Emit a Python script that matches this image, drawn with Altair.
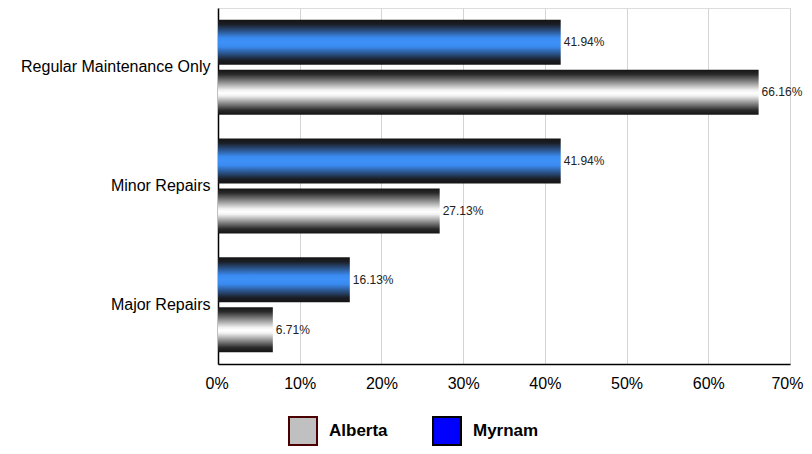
import altair as alt
import pandas as pd

categories = ["Regular Maintenance Only", "Minor Repairs", "Major Repairs"]
series_order = ["Myrnam", "Alberta"]
legend_order = ["Alberta", "Myrnam"]
myrnam_values = [0.4194, 0.4194, 0.1613]
alberta_values = [0.6616, 0.2713, 0.0671]
x_ticks = [0, 0.1, 0.2, 0.3, 0.4, 0.5, 0.6, 0.7]

rows = []
for c, m, a in zip(categories, myrnam_values, alberta_values):
    rows.append({"category": c, "series": "Myrnam", "value": m})
    rows.append({"category": c, "series": "Alberta", "value": a})
df = pd.DataFrame(rows)

FONT = "Liberation Sans"

blue_grad = alt.LinearGradient(
    gradient="linear", x1=0, x2=0, y1=0, y2=1,
    stops=[
        alt.GradientStop(color="#141414", offset=0),
        alt.GradientStop(color="#1b1e25", offset=0.1),
        alt.GradientStop(color="#3a8af0", offset=0.4),
        alt.GradientStop(color="#3e91f8", offset=0.5),
        alt.GradientStop(color="#3a8af0", offset=0.6),
        alt.GradientStop(color="#1b1e25", offset=0.9),
        alt.GradientStop(color="#141414", offset=1),
    ],
)
gray_grad = alt.LinearGradient(
    gradient="linear", x1=0, x2=0, y1=0, y2=1,
    stops=[
        alt.GradientStop(color="#141414", offset=0),
        alt.GradientStop(color="#2a2a2a", offset=0.1),
        alt.GradientStop(color="#f0f0f0", offset=0.45),
        alt.GradientStop(color="#ffffff", offset=0.52),
        alt.GradientStop(color="#f0f0f0", offset=0.58),
        alt.GradientStop(color="#2a2a2a", offset=0.9),
        alt.GradientStop(color="#141414", offset=1),
    ],
)

x_enc = alt.X(
    "value:Q",
    title=None,
    scale=alt.Scale(domain=[0, 0.7], nice=False),
    axis=alt.Axis(
        format="%", values=x_ticks, grid=True, gridColor="#d4d4d4", gridWidth=1,
        domainColor="black", domainWidth=1.5, ticks=False, tickSize=0,
        labelPadding=11, labelFontSize=16, labelColor="black", labelFont=FONT,
        labelFlush=True, labelFlushOffset=13,
    ),
)
y_enc = alt.Y(
    "category:N",
    sort=categories,
    title=None,
    scale=alt.Scale(paddingInner=0.2, paddingOuter=0.1),
    axis=alt.Axis(
        grid=False, ticks=False, tickSize=0, domainColor="black", domainWidth=1.5,
        labelPadding=8, labelFontSize=16, labelColor="black", labelFont=FONT,
        labelLimit=0,
    ),
)
yoff_enc = alt.YOffset(
    "series:N", sort=series_order, scale=alt.Scale(paddingInner=0.1, paddingOuter=0)
)

base = alt.Chart(df).encode(x=x_enc, y=y_enc, yOffset=yoff_enc)

myrnam_bars = base.transform_filter("datum.series == 'Myrnam'").mark_bar(fill=blue_grad)
alberta_bars = base.transform_filter("datum.series == 'Alberta'").mark_bar(fill=gray_grad)

labels = base.mark_text(
    align="left", baseline="middle", dx=3, fontSize=12, color="#222222", font=FONT
).encode(text=alt.Text("value:Q", format=".2%"))

leg = alt.Legend(
    orient="none", legendX=70, legendY=408, direction="horizontal", title=None,
    symbolType="square", symbolSize=784, symbolStrokeWidth=2,
    labelFontSize=17, labelFontWeight="bold", labelFont=FONT, labelColor="black",
    labelOffset=11, columnPadding=41, padding=0,
)
legend_layer = base.transform_filter("datum.value < 0").mark_square(
    size=784, strokeWidth=2, opacity=1
).encode(
    fill=alt.Fill("series:N", scale=alt.Scale(domain=legend_order, range=["#c0c0c0", "#0000ff"]), legend=leg),
    stroke=alt.Stroke("series:N", scale=alt.Scale(domain=legend_order, range=["#4a0000", "#000000"]), legend=leg),
)

chart = alt.layer(legend_layer, myrnam_bars, alberta_bars, labels).properties(
    width=572,
    height=356,
    autosize=alt.AutoSizeParams(type="none"),
    padding={"left": 210, "top": 0, "right": 14, "bottom": 82},
).configure_view(stroke="#a0a0a0", strokeWidth=1).configure(font=FONT)

chart.save("out.html", embed_options={"renderer": "svg", "actions": False})
